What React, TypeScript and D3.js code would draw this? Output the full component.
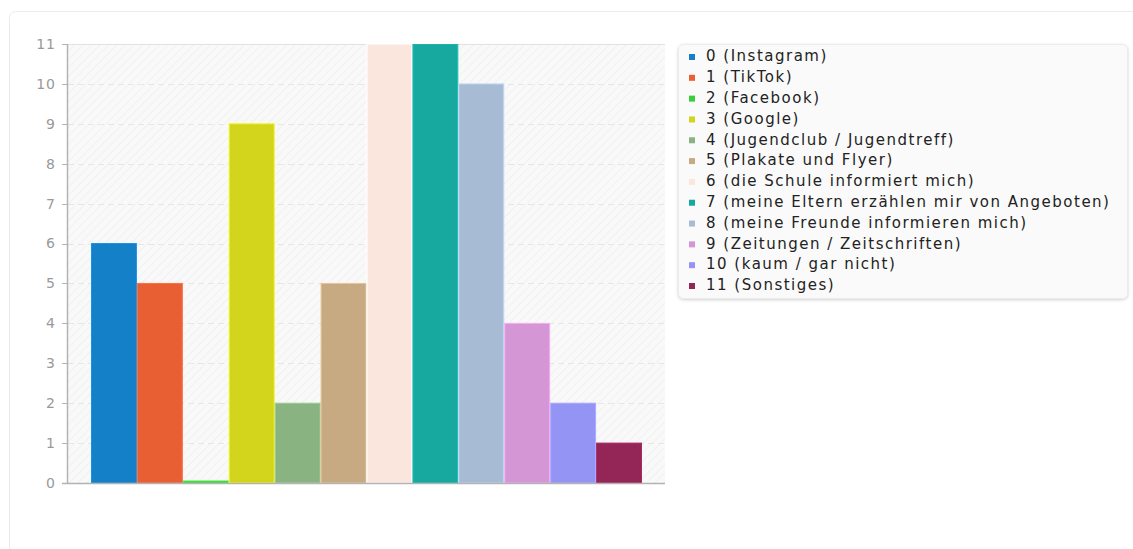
import React, { useEffect, useRef } from "react";
import * as d3 from "d3";

const categories = [
  "0 (Instagram)",
  "1 (TikTok)",
  "2 (Facebook)",
  "3 (Google)",
  "4 (Jugendclub / Jugendtreff)",
  "5 (Plakate und Flyer)",
  "6 (die Schule informiert mich)",
  "7 (meine Eltern erzählen mir von Angeboten)",
  "8 (meine Freunde informieren mich)",
  "9 (Zeitungen / Zeitschriften)",
  "10 (kaum / gar nicht)",
  "11 (Sonstiges)",
];

const values = [6, 5, 0, 9, 2, 5, 11, 11, 10, 4, 2, 1];

const colors = [
  "#1380c8",
  "#e95f34",
  "#3ccc3c",
  "#d3d41c",
  "#8ab382",
  "#c8aa82",
  "#fbe6de",
  "#17a8a0",
  "#a8bbd4",
  "#d496d4",
  "#9494f4",
  "#932557",
];

const yTicks = [0, 1, 2, 3, 4, 5, 6, 7, 8, 9, 10, 11];

const W = 1133;
const H = 549;

export default function App() {
  const svgRef = useRef<SVGSVGElement>(null);

  useEffect(() => {
    document.body.style.margin = "0";
    if (!svgRef.current) return;
    const svg = d3.select(svgRef.current);
    svg.selectAll("*").remove();

    const plot = { left: 68, right: 665, top: 44, bottom: 483 };

    // card
    svg
      .append("rect")
      .attr("x", 9.5)
      .attr("y", 11.5)
      .attr("width", W + 20)
      .attr("height", H + 20)
      .attr("rx", 6)
      .attr("fill", "#fff")
      .attr("stroke", "#ebebeb");

    const defs = svg.append("defs");
    const pat = defs
      .append("pattern")
      .attr("id", "hatch")
      .attr("patternUnits", "userSpaceOnUse")
      .attr("width", 6)
      .attr("height", 6)
      .attr("patternTransform", "rotate(45)");
    pat.append("rect").attr("width", 6).attr("height", 6).attr("fill", "#f9f9f9");
    pat
      .append("line")
      .attr("x1", 0)
      .attr("y1", 0)
      .attr("x2", 0)
      .attr("y2", 6)
      .attr("stroke", "#f1f1f1")
      .attr("stroke-width", 2);

    const shadow = defs.append("filter").attr("id", "shadow").attr("x", "-5%").attr("y", "-5%").attr("width", "110%").attr("height", "115%");
    shadow
      .append("feDropShadow")
      .attr("dx", 0)
      .attr("dy", 1)
      .attr("stdDeviation", 1.5)
      .attr("flood-color", "#000")
      .attr("flood-opacity", 0.18);

    const clip = defs.append("clipPath").attr("id", "plotclip");
    clip
      .append("rect")
      .attr("x", plot.left)
      .attr("y", plot.top)
      .attr("width", plot.right - plot.left)
      .attr("height", plot.bottom - plot.top + 1);

    // plot background
    svg
      .append("rect")
      .attr("x", plot.left)
      .attr("y", plot.top)
      .attr("width", plot.right - plot.left)
      .attr("height", plot.bottom - plot.top)
      .attr("fill", "url(#hatch)");

    const y = d3.scaleLinear().domain([0, 11]).range([plot.bottom, plot.top]);
    const x = d3
      .scaleBand<number>()
      .domain(d3.range(categories.length))
      .range([91, 642])
      .padding(0);

    // grid
    svg
      .append("g")
      .selectAll("line")
      .data(yTicks.filter((t) => t > 0 && t < 11))
      .join("line")
      .attr("x1", plot.left)
      .attr("x2", plot.right)
      .attr("y1", (d) => Math.round(y(d)) + 0.5)
      .attr("y2", (d) => Math.round(y(d)) + 0.5)
      .attr("stroke", "#e6e6e6")
      .attr("stroke-dasharray", "6,4");

    svg
      .append("line")
      .attr("x1", plot.left)
      .attr("x2", plot.right)
      .attr("y1", plot.top + 0.5)
      .attr("y2", plot.top + 0.5)
      .attr("stroke", "#e2e2e2");

    // bars
    svg
      .append("g")
      .attr("clip-path", "url(#plotclip)")
      .selectAll("rect")
      .data(values)
      .join("rect")
      .attr("x", (_, i) => x(i)! + 0.5)
      .attr("width", x.bandwidth() - 1)
      .attr("y", (d) => Math.min(y(d), plot.bottom - 2))
      .attr("height", (d) => Math.max(2, plot.bottom - y(d)))
      .attr("fill", (_, i) => colors[i])
      .attr("stroke", (_, i) => d3.color(colors[i])!.brighter(0.4).formatHex())
      .attr("stroke-width", 1);

    // axes
    svg
      .append("line")
      .attr("x1", plot.left - 0.5)
      .attr("x2", plot.left - 0.5)
      .attr("y1", plot.top)
      .attr("y2", plot.bottom)
      .attr("stroke", "#b3b3b3")
      .attr("stroke-width", 1.5);
    svg
      .append("line")
      .attr("x1", plot.left - 6)
      .attr("x2", plot.right)
      .attr("y1", plot.bottom + 0.5)
      .attr("y2", plot.bottom + 0.5)
      .attr("stroke", "#b3b3b3")
      .attr("stroke-width", 1.5);

    const ticks = svg.append("g");
    ticks
      .selectAll("line")
      .data(yTicks)
      .join("line")
      .attr("x1", plot.left - 6)
      .attr("x2", plot.left)
      .attr("y1", (d) => Math.round(y(d)) + 0.5)
      .attr("y2", (d) => Math.round(y(d)) + 0.5)
      .attr("stroke", "#b3b3b3");
    ticks
      .selectAll("text")
      .data(yTicks)
      .join("text")
      .attr("x", plot.left - 12)
      .attr("y", (d) => y(d))
      .attr("dy", "0.35em")
      .attr("text-anchor", "end")
      .attr("font-family", "DejaVu Sans, sans-serif")
      .attr("font-size", 14)
      .attr("letter-spacing", 1)
      .attr("fill", "#999")
      .text((d) => d);

    // legend
    const lg = svg.append("g");
    lg.append("rect")
      .attr("x", 678.5)
      .attr("y", 44.5)
      .attr("width", 449)
      .attr("height", 254)
      .attr("rx", 5)
      .attr("fill", "#fafafa")
      .attr("stroke", "#ececec")
      .attr("filter", "url(#shadow)");

    const ly = d3.scaleLinear().domain([0, 11]).range([56, 285]);
    const items = lg
      .selectAll("g.item")
      .data(categories)
      .join("g")
      .attr("class", "item")
      .attr("transform", (_, i) => `translate(0,${ly(i)})`);
    items
      .append("rect")
      .attr("x", 689)
      .attr("y", -2)
      .attr("width", 6)
      .attr("height", 6)
      .attr("fill", (_, i) => colors[i]);
    items
      .append("text")
      .attr("x", 706)
      .attr("y", 0)
      .attr("dy", "0.35em")
      .attr("font-family", "DejaVu Sans, sans-serif")
      .attr("font-size", 15)
      .attr("letter-spacing", 1.5)
      .attr("fill", "#222")
      .text((d) => d);
  }, []);

  return <svg ref={svgRef} width={W} height={H} style={{ display: "block" }} />;
}
